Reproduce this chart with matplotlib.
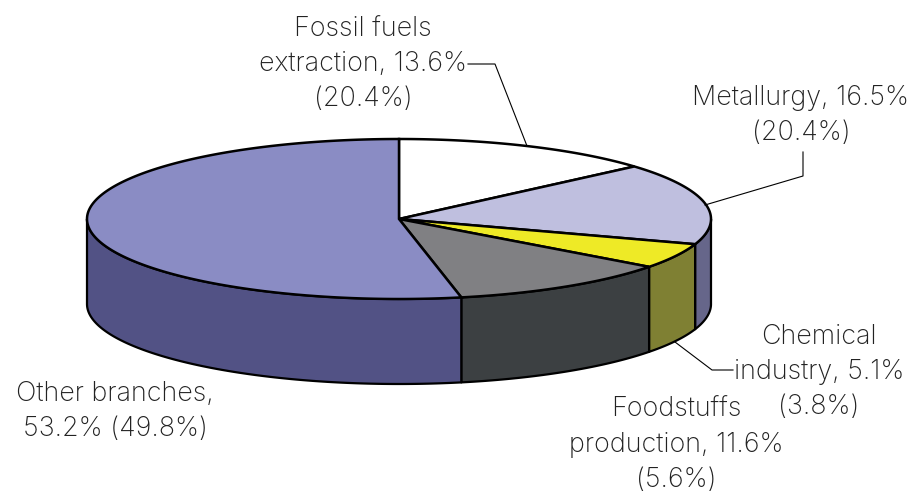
import numpy as np
import matplotlib
matplotlib.use('Agg')
import matplotlib.pyplot as plt

# Shares of each branch, clockwise from 12 o'clock
labels = ['Fossil fuels\nextraction, 13.6%\n(20.4%)',
          'Metallurgy, 16.5%\n(20.4%)',
          'Chemical\nindustry, 5.1%\n(3.8%)',
          'Foodstuffs\nproduction, 11.6%\n(5.6%)',
          'Other branches,\n53.2% (49.8%)']
shares = [13.6, 16.5, 5.1, 11.6, 53.2]
top_colors = ['#ffffff', '#bfbfdf', '#eeea26', '#808083', '#8a8cc4']
side_colors = ['#ffffff', '#66668a', '#7f8033', '#3c4042', '#525285']

plt.rcParams['font.family'] = ['Inter', 'DejaVu Sans']

fig = plt.figure(figsize=(9.12, 4.94), dpi=100)
ax = fig.add_axes([0, 0, 1, 1])
ax.set_xlim(0, 912)
ax.set_ylim(494, 0)
ax.axis('off')

cx, cy, rx, ry, depth = 399, 219, 312, 80, 85


def rim(a0, a1):
    t = np.radians(np.linspace(a0, a1, 200))
    return cx + rx * np.sin(t), cy - ry * np.cos(t)


ends = np.cumsum(shares) / 100 * 360
starts = np.r_[0, ends[:-1]]

# side wall first, only the front half (90..270 degrees) shows
for a0, a1, c in zip(starts, ends, side_colors):
    lo, hi = max(a0, 90), min(a1, 270)
    if lo >= hi:
        continue
    x, y = rim(lo, hi)
    ax.fill(np.r_[x, x[::-1]], np.r_[y, y[::-1] + depth], fc=c, ec='black', lw=1.6, joinstyle='round')

# top face
for a0, a1, c in zip(starts, ends, top_colors):
    x, y = rim(a0, a1)
    ax.fill(np.r_[cx, x], np.r_[cy, y], fc=c, ec='black', lw=1.8)

# labels and leader lines
fs = 19.4
pos = [(363, 64), (801, 115), (819, 372), (676, 445), (115, 411)]
for (px, py), txt in zip(pos, labels):
    ax.text(px, py, txt, ha='center', va='center', fontsize=fs, linespacing=1.45,
            color='#222222', fontweight='light')

ax.plot([468, 495, 527], [64, 64, 146], color='black', lw=0.8)
ax.plot([803, 803, 705], [152, 176, 205], color='black', lw=0.8)
ax.plot([733, 712, 675], [370, 370, 342], color='black', lw=0.8)

fig.savefig('out.png', dpi=100)
